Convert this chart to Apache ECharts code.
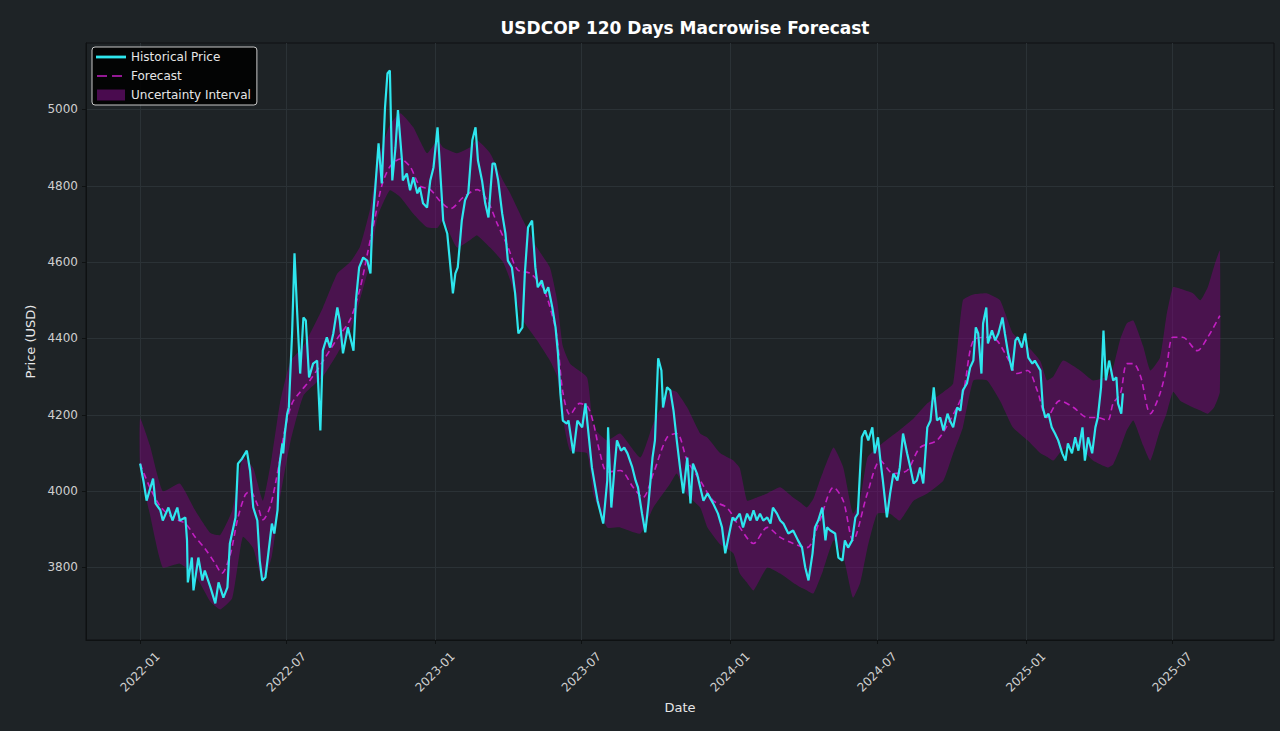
<!DOCTYPE html>
<html>
<head>
<meta charset="utf-8">
<script src="https://cdn.jsdelivr.net/npm/echarts@6/dist/echarts.min.js"></script>
<style>
html,body{margin:0;padding:0;background:#1e2326;}
#chart{width:1280px;height:731px;}
</style>
</head>
<body>
<div id="chart"></div>
<script>
const histDates = ['2022-01-01','2022-01-05','2022-01-09','2022-01-17','2022-01-20','2022-01-26','2022-01-29','2022-02-05','2022-02-10','2022-02-16','2022-02-19','2022-02-26','2022-02-28','2022-03-01','2022-03-06','2022-03-08','2022-03-14','2022-03-19','2022-03-22','2022-03-29','2022-04-04','2022-04-08','2022-04-14','2022-04-19','2022-04-22','2022-04-29','2022-05-02','2022-05-07','2022-05-13','2022-05-17','2022-05-21','2022-05-26','2022-05-29','2022-06-01','2022-06-05','2022-06-08','2022-06-13','2022-06-16','2022-06-20','2022-06-22','2022-06-26','2022-06-27','2022-06-29','2022-07-02','2022-07-04','2022-07-08','2022-07-11','2022-07-14','2022-07-18','2022-07-22','2022-07-25','2022-07-29','2022-08-03','2022-08-08','2022-08-12','2022-08-15','2022-08-20','2022-08-24','2022-08-28','2022-09-02','2022-09-05','2022-09-09','2022-09-15','2022-09-22','2022-09-25','2022-09-29','2022-10-04','2022-10-09','2022-10-13','2022-10-15','2022-10-19','2022-10-23','2022-10-27','2022-10-31','2022-11-03','2022-11-06','2022-11-09','2022-11-13','2022-11-16','2022-11-21','2022-11-22','2022-11-27','2022-12-01','2022-12-05','2022-12-10','2022-12-13','2022-12-17','2022-12-22','2022-12-26','2022-12-30','2023-01-04','2023-01-07','2023-01-11','2023-01-16','2023-01-20','2023-01-23','2023-01-26','2023-01-29','2023-02-03','2023-02-07','2023-02-11','2023-02-16','2023-02-20','2023-02-23','2023-02-28','2023-03-04','2023-03-08','2023-03-13','2023-03-16','2023-03-20','2023-03-25','2023-03-29','2023-04-01','2023-04-06','2023-04-10','2023-04-14','2023-04-19','2023-04-22','2023-04-26','2023-05-01','2023-05-05','2023-05-08','2023-05-13','2023-05-17','2023-05-21','2023-05-26','2023-05-30','2023-06-02','2023-06-05','2023-06-08','2023-06-13','2023-06-15','2023-06-21','2023-06-26','2023-07-02','2023-07-06','2023-07-09','2023-07-14','2023-07-21','2023-07-28','2023-08-02','2023-08-03','2023-08-07','2023-08-11','2023-08-14','2023-08-19','2023-08-23','2023-08-27','2023-09-02','2023-09-06','2023-09-09','2023-09-14','2023-09-18','2023-09-22','2023-09-27','2023-09-30','2023-10-04','2023-10-08','2023-10-10','2023-10-15','2023-10-19','2023-10-23','2023-10-27','2023-10-31','2023-11-04','2023-11-09','2023-11-13','2023-11-16','2023-11-21','2023-11-25','2023-11-29','2023-12-04','2023-12-07','2023-12-11','2023-12-17','2023-12-22','2023-12-26','2023-12-30','2024-01-04','2024-01-07','2024-01-13','2024-01-17','2024-01-22','2024-01-26','2024-01-30','2024-02-03','2024-02-07','2024-02-11','2024-02-16','2024-02-20','2024-02-23','2024-02-28','2024-03-03','2024-03-07','2024-03-13','2024-03-19','2024-03-25','2024-03-30','2024-04-03','2024-04-07','2024-04-12','2024-04-15','2024-04-19','2024-04-24','2024-04-28','2024-04-30','2024-05-04','2024-05-10','2024-05-14','2024-05-19','2024-05-22','2024-05-26','2024-05-31','2024-06-04','2024-06-07','2024-06-12','2024-06-16','2024-06-20','2024-06-25','2024-06-28','2024-07-02','2024-07-05','2024-07-08','2024-07-13','2024-07-17','2024-07-21','2024-07-26','2024-07-29','2024-08-02','2024-08-07','2024-08-11','2024-08-15','2024-08-19','2024-08-23','2024-08-27','2024-09-01','2024-09-05','2024-09-09','2024-09-13','2024-09-17','2024-09-21','2024-09-26','2024-09-29','2024-10-03','2024-10-08','2024-10-12','2024-10-15','2024-10-20','2024-10-24','2024-10-28','2024-10-31','2024-11-03','2024-11-07','2024-11-09','2024-11-13','2024-11-15','2024-11-20','2024-11-24','2024-11-28','2024-12-03','2024-12-06','2024-12-10','2024-12-15','2024-12-19','2024-12-22','2024-12-27','2024-12-31','2025-01-04','2025-01-09','2025-01-12','2025-01-19','2025-01-22','2025-01-25','2025-01-29','2025-02-02','2025-02-06','2025-02-10','2025-02-15','2025-02-19','2025-02-22','2025-02-27','2025-03-03','2025-03-07','2025-03-12','2025-03-15','2025-03-19','2025-03-24','2025-03-28','2025-03-31','2025-04-04','2025-04-07','2025-04-10','2025-04-14','2025-04-19','2025-04-23','2025-04-25','2025-04-29','2025-05-01'];
const histPrice = [4072,4028,3975,4033,3968,3950,3923,3957,3923,3957,3923,3931,3871,3761,3826,3740,3826,3766,3792,3748,3706,3761,3721,3748,3863,3931,4072,4085,4106,4054,3957,3923,3818,3766,3774,3826,3915,3889,3950,4062,4125,4099,4151,4203,4220,4413,4623,4481,4308,4455,4447,4298,4334,4342,4159,4368,4403,4376,4413,4481,4447,4361,4429,4368,4500,4586,4612,4604,4570,4691,4796,4911,4806,5005,5094,5102,4814,4901,4998,4866,4814,4832,4788,4822,4780,4796,4754,4743,4814,4848,4953,4848,4709,4675,4586,4518,4570,4586,4709,4762,4780,4919,4953,4866,4814,4754,4717,4858,4858,4814,4727,4675,4604,4586,4518,4413,4429,4570,4691,4709,4586,4534,4552,4518,4534,4481,4429,4361,4256,4185,4177,4185,4099,4185,4167,4230,4167,4062,3975,3915,4028,4167,3957,4062,4133,4106,4114,4099,4062,4028,4010,3941,3892,3968,4088,4133,4348,4316,4219,4272,4264,4211,4133,4062,3994,4088,3968,4072,4046,4010,3975,3994,3983,3968,3941,3905,3837,3879,3931,3923,3941,3905,3941,3923,3950,3923,3941,3923,3931,3915,3957,3941,3923,3915,3889,3897,3871,3852,3800,3766,3837,3905,3923,3957,3871,3905,3897,3889,3826,3818,3871,3852,3871,3931,3941,4141,4159,4133,4167,4099,4141,4080,4028,3931,3994,4046,4028,4062,4151,4099,4062,4020,4028,4062,4020,4167,4185,4272,4185,4193,4159,4203,4185,4167,4219,4211,4264,4282,4324,4342,4429,4413,4308,4439,4481,4387,4421,4395,4413,4455,4413,4361,4316,4395,4403,4376,4413,4350,4334,4342,4316,4219,4193,4203,4167,4151,4133,4099,4080,4125,4099,4141,4106,4167,4080,4141,4099,4167,4193,4272,4421,4290,4342,4290,4298,4230,4203,4256];

const fcDates = ['2022-01-01','2022-01-13','2022-01-26','2022-02-10','2022-02-26','2022-03-10','2022-03-22','2022-04-04','2022-04-12','2022-04-22','2022-05-02','2022-05-11','2022-05-17','2022-05-26','2022-06-02','2022-06-11','2022-06-21','2022-06-29','2022-07-08','2022-07-18','2022-07-30','2022-08-15','2022-09-02','2022-09-18','2022-09-30','2022-10-10','2022-10-19','2022-10-27','2022-11-06','2022-11-19','2022-12-01','2022-12-13','2022-12-26','2023-01-07','2023-01-20','2023-02-05','2023-02-22','2023-03-07','2023-03-19','2023-04-01','2023-04-13','2023-04-29','2023-05-15','2023-05-26','2023-06-01','2023-06-08','2023-06-17','2023-06-29','2023-07-09','2023-07-16','2023-07-24','2023-08-02','2023-08-18','2023-09-03','2023-09-15','2023-09-28','2023-10-15','2023-10-27','2023-11-09','2023-11-25','2023-12-11','2023-12-28','2024-01-13','2024-01-30','2024-02-16','2024-03-03','2024-03-19','2024-04-05','2024-04-21','2024-05-08','2024-05-20','2024-06-01','2024-06-19','2024-07-05','2024-07-21','2024-08-07','2024-08-23','2024-09-13','2024-09-29','2024-10-15','2024-10-28','2024-11-14','2024-11-26','2024-12-09','2024-12-21','2025-01-03','2025-01-15','2025-01-27','2025-02-12','2025-03-01','2025-03-18','2025-03-30','2025-04-12','2025-04-19','2025-04-28','2025-05-06','2025-05-14','2025-05-23','2025-06-04','2025-06-16','2025-06-24','2025-07-02','2025-07-14','2025-08-01','2025-08-14','2025-08-29'];
const fcPrice = [4072,4010,3960,3930,3915,3880,3850,3810,3785,3830,3930,3990,4000,3965,3925,3960,4060,4160,4230,4260,4290,4340,4400,4450,4530,4630,4720,4800,4850,4870,4850,4800,4790,4760,4740,4770,4790,4760,4700,4640,4580,4570,4530,4460,4400,4260,4200,4230,4220,4177,4100,4050,4054,4010,3983,4046,4141,4151,4080,4028,3975,3957,3905,3863,3905,3879,3863,3852,3923,4010,3975,3871,3995,4080,4046,4054,4114,4133,4185,4256,4395,4403,4395,4350,4308,4316,4264,4193,4237,4219,4193,4193,4185,4230,4256,4334,4334,4300,4203,4256,4324,4403,4403,4368,4403,4460];

const bandDates = ['2022-01-01','2022-01-13','2022-01-29','2022-02-19','2022-03-10','2022-03-29','2022-04-10','2022-04-25','2022-05-08','2022-05-21','2022-06-02','2022-06-13','2022-06-23','2022-07-06','2022-07-22','2022-08-15','2022-09-02','2022-09-18','2022-09-30','2022-10-13','2022-10-22','2022-11-06','2022-11-19','2022-12-05','2022-12-22','2023-01-04','2023-01-11','2023-01-28','2023-02-13','2023-02-22','2023-03-10','2023-03-26','2023-04-04','2023-04-20','2023-05-07','2023-05-23','2023-06-01','2023-06-08','2023-06-17','2023-07-08','2023-07-16','2023-08-02','2023-08-18','2023-09-12','2023-09-28','2023-10-19','2023-10-27','2023-11-09','2023-11-25','2023-12-04','2023-12-20','2024-01-05','2024-01-13','2024-01-22','2024-01-30','2024-02-16','2024-03-03','2024-03-19','2024-03-28','2024-04-05','2024-04-13','2024-04-21','2024-04-25','2024-05-08','2024-05-20','2024-06-01','2024-06-10','2024-06-19','2024-07-01','2024-07-17','2024-07-29','2024-08-15','2024-09-01','2024-09-21','2024-10-03','2024-10-15','2024-10-28','2024-11-14','2024-11-30','2024-12-16','2025-01-03','2025-01-19','2025-01-27','2025-02-04','2025-02-16','2025-03-09','2025-03-25','2025-04-12','2025-04-19','2025-04-28','2025-05-06','2025-05-14','2025-05-26','2025-06-04','2025-06-16','2025-06-24','2025-07-02','2025-07-11','2025-07-27','2025-08-05','2025-08-14','2025-08-22','2025-08-29'];
const bandUpper = [4190,4120,4000,4020,3950,3890,3885,3950,4088,4060,3975,4090,4230,4340,4380,4480,4570,4600,4640,4743,4866,4960,4990,4953,4885,4919,4900,4885,4900,4919,4885,4814,4780,4709,4638,4586,4500,4380,4334,4298,4167,4133,4151,4088,4177,4264,4260,4219,4151,4140,4099,4080,4060,3975,3980,3994,4010,3983,3970,3957,3980,4028,4050,4114,4062,3941,3980,4088,4114,4141,4160,4190,4230,4260,4282,4500,4515,4518,4500,4413,4380,4340,4290,4300,4342,4316,4290,4300,4324,4400,4440,4447,4380,4316,4350,4460,4534,4530,4518,4500,4534,4590,4630];
const bandLower = [4060,3940,3800,3810,3780,3710,3690,3720,3880,3850,3760,3830,3980,4130,4250,4300,4360,4420,4500,4604,4720,4788,4770,4727,4691,4690,4710,4638,4657,4670,4638,4600,4552,4447,4395,4342,4300,4193,4106,4099,3990,3905,3905,3889,3957,4020,4046,3990,3957,3905,3860,3837,3784,3760,3740,3800,3784,3760,3748,3740,3732,3770,3792,3871,3830,3721,3760,3852,3941,3941,3923,3975,3994,4028,4099,4167,4290,4290,4237,4167,4133,4099,4090,4080,4110,4114,4080,4062,4070,4114,4160,4185,4120,4080,4160,4203,4260,4237,4219,4211,4203,4220,4260];

const xTickLabels = ['2022-01','2022-07','2023-01','2023-07','2024-01','2024-07','2025-01','2025-07'];
const yTicks = [3800,4000,4200,4400,4600,4800,5000];

const FONT = 'DejaVu Sans';
const toTs = s => { const p = s.split('-').map(Number); return new Date(p[0], p[1]-1, p[2] || 1).getTime(); };
const pair = (ds, vs) => ds.map((d, i) => [toTs(d), vs[i]]);
const xTickTs = xTickLabels.map(toTs);
const fmtMonth = v => { const d = new Date(v); return d.getFullYear() + '-' + String(d.getMonth()+1).padStart(2, '0'); };
const BAND_FILL = 'rgba(128,0,128,0.45)';

const chart = echarts.init(document.getElementById('chart'), null, {renderer: 'svg'});
chart.setOption({
  backgroundColor: '#1e2326',
  animation: false,
  title: {
    text: 'USDCOP 120 Days Macrowise Forecast',
    left: 680, top: 14, textAlign: 'center',
    textStyle: {color: '#ffffff', fontFamily: FONT, fontWeight: 'bold', fontSize: 17}
  },
  legend: {
    left: 92, top: 47, orient: 'vertical',
    itemWidth: 30, itemHeight: 12, itemGap: 7,
    padding: [4, 6, 4, 4],
    backgroundColor: 'rgba(0,0,0,0.88)',
    borderColor: '#c8c8c8', borderWidth: 1, borderRadius: 3,
    textStyle: {color: '#e6e6e6', fontFamily: FONT, fontSize: 12},
    data: [
      {name: 'Historical Price', icon: 'path://M0,0 M30,12 M0,4.6 h30 v2.8 h-30 z', itemStyle: {color: '#2ee6ee'}},
      {name: 'Forecast', icon: 'path://M0,0 M30,12 M1,5.2 h10 v1.6 h-10 z M16,5.2 h10 v1.6 h-10 z', itemStyle: {color: '#c21fc2'}},
      {name: 'Uncertainty Interval', icon: 'path://M0,0 M30,12 M1,0.5 h28 v11 h-28 z', itemStyle: {color: '#4a0b4f'}}
    ]
  },
  grid: {
    left: 86, right: 6, top: 43, bottom: 91,
    show: true, backgroundColor: '#1e2326', borderColor: '#0e1112', borderWidth: 1
  },
  xAxis: {
    type: 'value',
    min: toTs('2021-10-26'), max: toTs('2025-11-04'),
    name: 'Date', nameLocation: 'middle', nameGap: 59,
    nameTextStyle: {color: '#e6e6e6', fontFamily: FONT, fontSize: 13},
    axisLine: {show: true, onZero: false, lineStyle: {color: '#0e1112'}},
    axisTick: {show: true, customValues: xTickTs, length: 4, lineStyle: {color: '#0e1112'}},
    axisLabel: {
      customValues: xTickTs, rotate: 45, margin: 32, align: 'center', verticalAlign: 'middle',
      color: '#cfcfcf', fontFamily: FONT, fontSize: 12, formatter: fmtMonth
    },
    splitLine: {show: true, lineStyle: {color: '#2b3236', width: 1}}
  },
  yAxis: {
    type: 'value', min: 3610, max: 5174,
    name: 'Price (USD)', nameLocation: 'middle', nameGap: 48,
    nameTextStyle: {color: '#e6e6e6', fontFamily: FONT, fontSize: 13},
    axisLine: {show: true, lineStyle: {color: '#0e1112'}},
    axisTick: {show: true, customValues: yTicks, length: 4, lineStyle: {color: '#0e1112'}},
    axisLabel: {customValues: yTicks, margin: 8, color: '#cfcfcf', fontFamily: FONT, fontSize: 12, formatter: v => String(v)},
    splitLine: {show: true, lineStyle: {color: '#2b3236', width: 1}}
  },
  series: [
    {
      name: 'Uncertainty Interval', type: 'custom', silent: true, z: 1,
      itemStyle: {color: '#4a0b4f'},
      encode: {x: 0, y: [1, 2]},
      data: bandDates.map((d, i) => [toTs(d), bandUpper[i], bandLower[i]]),
      renderItem: (params, api) => {
        if (params.dataIndexInside !== 0) return null;
        const n = params.dataInsideLength;
        const up = [], lo = [];
        for (let i = 0; i < n; i++) {
          const x = api.value(0, i);
          up.push(api.coord([x, api.value(1, i)]));
          lo.push(api.coord([x, api.value(2, i)]));
        }
        return {
          type: 'polygon',
          shape: {points: up.concat(lo.reverse()), smooth: 0.15},
          style: {fill: BAND_FILL}
        };
      }
    },
    {
      name: 'Forecast', type: 'line', symbol: 'none', smooth: 0.3,
      data: pair(fcDates, fcPrice),
      itemStyle: {color: '#c21fc2'},
      lineStyle: {color: '#c21fc2', width: 1.6, type: [6, 4]}, z: 2
    },
    {
      name: 'Historical Price', type: 'line', symbol: 'none',
      data: pair(histDates, histPrice),
      itemStyle: {color: '#2ee6ee'},
      lineStyle: {color: '#2ee6ee', width: 2.2}, z: 3
    }
  ]
});
</script>
</body>
</html>
